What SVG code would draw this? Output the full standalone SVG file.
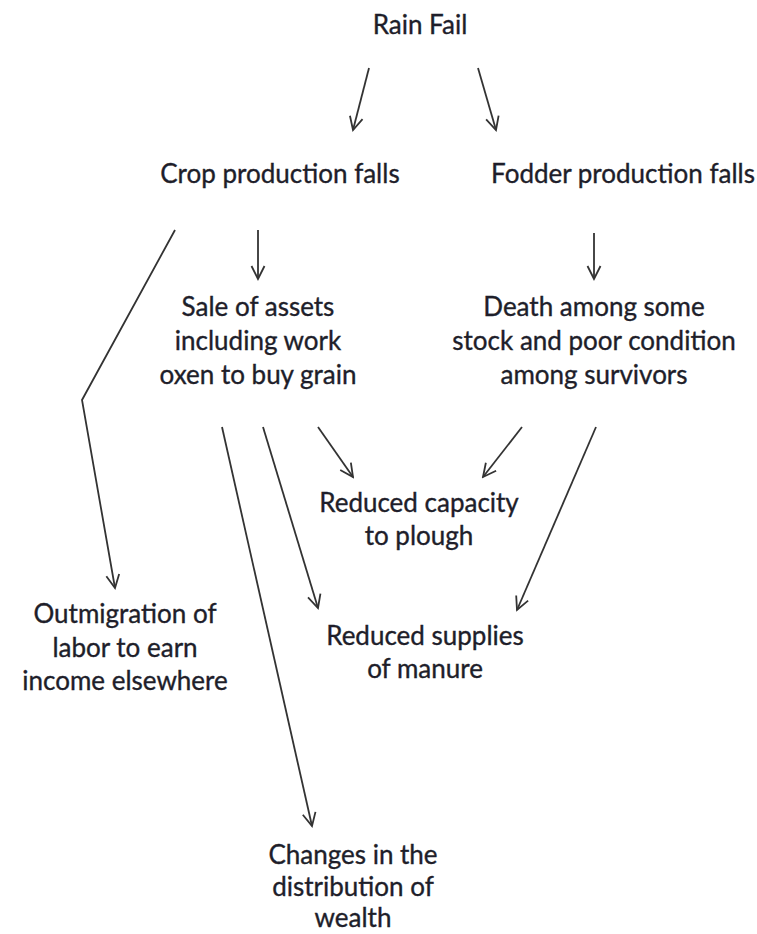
<svg xmlns="http://www.w3.org/2000/svg" width="757" height="934" viewBox="0 0 757 934">
  <style>
    .lbl { font-family: Lato, "Open Sans", "Liberation Sans", sans-serif; font-size: 26px; fill: #1e1e2a; stroke: #1e1e2a; stroke-width: 0.35; text-anchor: middle; }
    .arrow { fill: none; stroke: #333; stroke-width: 1.8; marker-end: url(#head); }
  </style>
  <defs>
    <marker id="head" markerUnits="userSpaceOnUse" viewBox="-15 -9 17 18" refX="0" refY="0" markerWidth="17" markerHeight="18" orient="auto">
      <path d="M-13,-6.5 L0,0 L-13,6.5" fill="none" stroke="#333" stroke-width="1.8" stroke-linejoin="miter"/>
    </marker>
  </defs>
  <rect width="757" height="934" fill="#fff"/>

  <g id="connectors">
    <line class="arrow" x1="369" y1="68" x2="353" y2="130"/>
    <line class="arrow" x1="478" y1="68" x2="496" y2="130"/>
    <line class="arrow" x1="258" y1="230" x2="258" y2="279"/>
    <line class="arrow" x1="594" y1="233" x2="594" y2="279"/>
    <polyline class="arrow" points="175,230 82,400 115,588"/>
    <line class="arrow" x1="222" y1="427" x2="312" y2="826"/>
    <line class="arrow" x1="263" y1="427" x2="318" y2="608"/>
    <line class="arrow" x1="318" y1="427" x2="353" y2="477"/>
    <line class="arrow" x1="522" y1="427" x2="483" y2="477"/>
    <line class="arrow" x1="596" y1="427" x2="517" y2="610"/>
  </g>

  <g id="rain-fail">
    <text class="lbl" x="420" y="34">Rain Fail</text>
  </g>
  <g id="crop-production">
    <text class="lbl" x="280" y="183">Crop production falls</text>
  </g>
  <g id="fodder-production">
    <text class="lbl" x="623" y="183">Fodder production falls</text>
  </g>
  <g id="sale-of-assets">
    <text class="lbl" x="258" y="316">Sale of assets</text>
    <text class="lbl" x="258" y="350">including work</text>
    <text class="lbl" x="258" y="384">oxen to buy grain</text>
  </g>
  <g id="livestock-death">
    <text class="lbl" x="594" y="316">Death among some</text>
    <text class="lbl" x="594" y="350">stock and poor condition</text>
    <text class="lbl" x="594" y="384">among survivors</text>
  </g>
  <g id="ploughing-capacity">
    <text class="lbl" x="419" y="512">Reduced capacity</text>
    <text class="lbl" x="419" y="545">to plough</text>
  </g>
  <g id="manure-supply">
    <text class="lbl" x="425" y="645">Reduced supplies</text>
    <text class="lbl" x="425" y="678">of manure</text>
  </g>
  <g id="outmigration">
    <text class="lbl" x="125" y="623">Outmigration of</text>
    <text class="lbl" x="125" y="657">labor to earn</text>
    <text class="lbl" x="125" y="690">income elsewhere</text>
  </g>
  <g id="wealth-distribution">
    <text class="lbl" x="353" y="864">Changes in the</text>
    <text class="lbl" x="353" y="896">distribution of</text>
    <text class="lbl" x="353" y="927">wealth</text>
  </g>
</svg>
